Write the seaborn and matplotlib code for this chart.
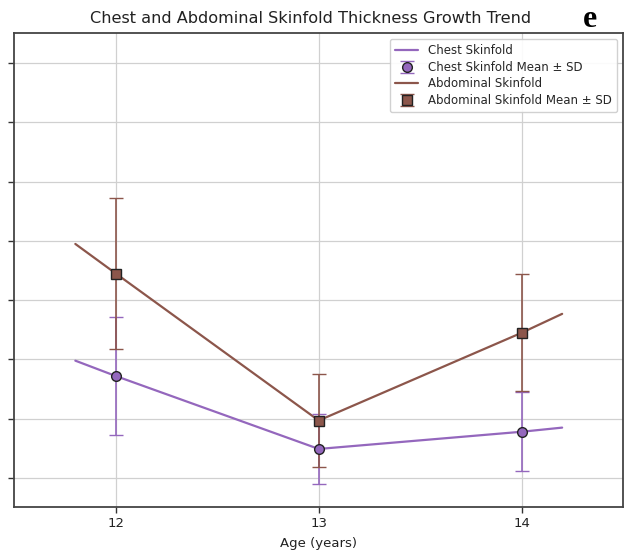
import numpy as np
import pandas as pd
import matplotlib
matplotlib.use("Agg")
import matplotlib.pyplot as plt
import seaborn as sns

# ---- data (y units arbitrary, labels hidden in the reference) ----
ages = [12, 13, 14]
chest_mean = [5.72, 4.49, 4.78]
chest_sd = [0.99, 0.59, 0.67]
abd_mean = [7.45, 4.97, 6.45]
abd_sd = [1.28, 0.78, 0.99]

trend_x = [11.8, 12, 13, 14, 14.2]
chest_trend = [5.98, 5.72, 4.49, 4.78, 4.85]
abd_trend = [7.95, 7.45, 4.97, 6.45, 6.77]

x_ticks = [12, 13, 14]
y_ticks = [4, 5, 6, 7, 8, 9, 10, 11]

chest_color = "#9467bd"
abd_color = "#8c564b"

sns.set_style("whitegrid")
plt.rcParams["font.family"] = ["DejaVu Sans"]

fig = plt.figure(figsize=(6.24, 5.52), dpi=100)
ax = fig.add_axes([0.0232, 0.0815, 0.9752, 0.8587])

trend_df = pd.DataFrame({"age": trend_x, "chest": chest_trend, "abd": abd_trend})

sns.lineplot(data=trend_df, x="age", y="chest", ax=ax, color=chest_color,
             linewidth=1.6, label="Chest Skinfold", sort=False)
ax.errorbar(ages, chest_mean, yerr=chest_sd, fmt="o", color=chest_color,
            ecolor=chest_color, elinewidth=1.2, capsize=5, markersize=7,
            markerfacecolor=chest_color, markeredgecolor="#222222",
            markeredgewidth=1.0, label="Chest Skinfold Mean ± SD", zorder=4)
sns.lineplot(data=trend_df, x="age", y="abd", ax=ax, color=abd_color,
             linewidth=1.6, label="Abdominal Skinfold", sort=False)
ax.errorbar(ages, abd_mean, yerr=abd_sd, fmt="s", color=abd_color,
            ecolor=abd_color, elinewidth=1.2, capsize=5, markersize=7,
            markerfacecolor=abd_color, markeredgecolor="#222222",
            markeredgewidth=1.0, label="Abdominal Skinfold Mean ± SD", zorder=4)

ax.set_xlim(11.5, 14.5)
ax.set_ylim(3.51, 11.51)
ax.set_xticks(x_ticks)
ax.set_xticklabels([str(t) for t in x_ticks], fontsize=9.5, color="#222222")
ax.set_yticks(y_ticks)
ax.set_yticklabels([])
ax.tick_params(axis="both", which="both", length=4, width=1, color="#333333",
               direction="out", left=True, bottom=True)
ax.grid(True, color="#d0d0d0", linewidth=0.9)
for s in ax.spines.values():
    s.set_color("#444444")
    s.set_linewidth(1.3)

ax.set_xlabel("Age (years)", fontsize=9.5, color="#222222", labelpad=5)
ax.set_ylabel("")
ax.set_title("Chest and Abdominal Skinfold Thickness Growth Trend",
             fontsize=11.6, color="#222222", pad=7, x=0.487)

handles, labels = ax.get_legend_handles_labels()
order = ["Chest Skinfold", "Chest Skinfold Mean ± SD",
         "Abdominal Skinfold", "Abdominal Skinfold Mean ± SD"]
hmap = dict(zip(labels, handles))
leg = ax.legend([hmap[l] for l in order], order, loc="upper right",
                fontsize=8.5, frameon=True, framealpha=0.9,
                borderpad=0.45, handlelength=2.0, labelspacing=0.3,
                bbox_to_anchor=(1.0, 1.0), borderaxespad=0.5)
leg.get_frame().set_edgecolor("#cccccc")

fig.text(0.945, 0.965, "e", fontsize=23, fontweight="bold", color="black",
         family=["Liberation Serif", "DejaVu Serif"], ha="center", va="center")

fig.savefig("out.png", dpi=100, facecolor="white")
